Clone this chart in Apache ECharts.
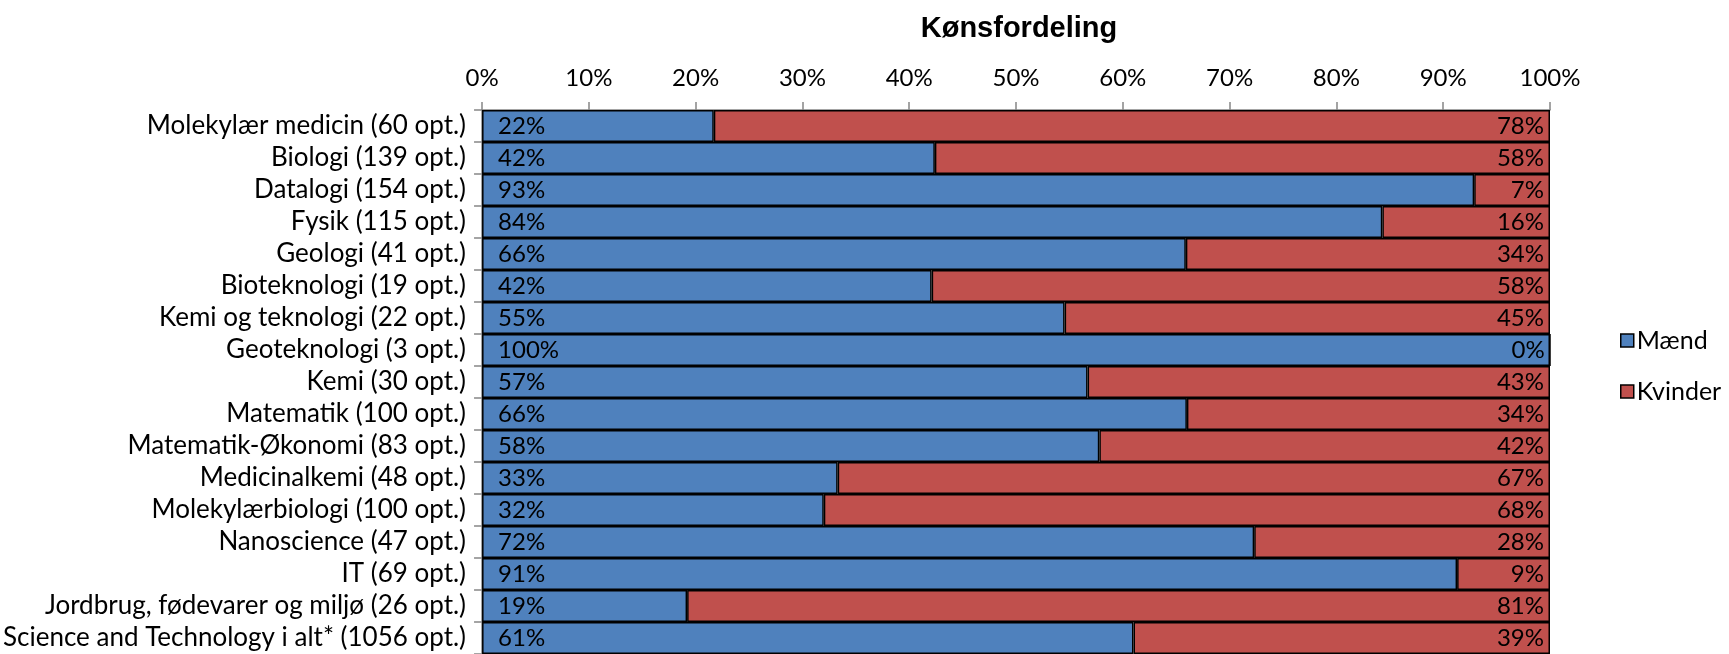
<!DOCTYPE html>
<html>
<head>
<meta charset="utf-8">
<script src="https://cdn.jsdelivr.net/npm/echarts@6/dist/echarts.min.js"></script>
<style>
html,body{margin:0;padding:0;background:#fff;}
#chart{width:1729px;height:654px;}
</style>
</head>
<body>
<div id="chart"></div>
<script>
const titleText = 'Kønsfordeling';
const categories = [
  'Molekylær medicin (60 opt.)',
  'Biologi (139 opt.)',
  'Datalogi (154 opt.)',
  'Fysik (115 opt.)',
  'Geologi (41 opt.)',
  'Bioteknologi (19 opt.)',
  'Kemi og teknologi (22 opt.)',
  'Geoteknologi (3 opt.)',
  'Kemi (30 opt.)',
  'Matematik (100 opt.)',
  'Matematik-Økonomi (83 opt.)',
  'Medicinalkemi (48 opt.)',
  'Molekylærbiologi (100 opt.)',
  'Nanoscience (47 opt.)',
  'IT (69 opt.)',
  'Jordbrug, fødevarer og miljø (26 opt.)',
  'Science and Technology i alt* (1056 opt.)'
];
const maend =   [21.7, 42.4, 92.9, 84.3, 65.9, 42.1, 54.55, 100, 56.7, 66.0, 57.8, 33.3, 32.0, 72.3, 91.3, 19.2, 61.0];
const kvinder = [78.3, 57.6,  7.1, 15.7, 34.1, 57.9, 45.45,   0, 43.3, 34.0, 42.2, 66.7, 68.0, 27.7,  8.7, 80.8, 39.0];
const seriesNames = ['Mænd', 'Kvinder'];
const tickLabels = ['0%','10%','20%','30%','40%','50%','60%','70%','80%','90%','100%'];

const FONT = 'Lato';
const chart = echarts.init(document.getElementById('chart'), null, {renderer: 'canvas'});
const pct = p => Math.round(p.value) + '%';
chart.setOption({
  backgroundColor: '#fff',
  animation: false,
  title: {
    text: titleText,
    left: 1014, top: 9, textAlign: 'center',
    textStyle: {fontFamily: 'Liberation Sans', fontWeight: 'bold', fontSize: 29, color: '#000'}
  },
  legend: {
    orient: 'vertical',
    left: 1615, top: 323,
    itemWidth: 13, itemHeight: 13, itemGap: 26,
    icon: 'rect',
    itemStyle: {borderColor: '#000', borderWidth: 1.5},
    textStyle: {fontFamily: FONT, fontSize: 25, color: '#000', padding: [0,0,0,-2]},
    data: seriesNames
  },
  grid: {left: 482, right: 179, top: 110, bottom: -3, containLabel: false},
  xAxis: {
    type: 'value', position: 'top', min: 0, max: 100, interval: 10,
    axisLine: {show: true, lineStyle: {color: '#868686', width: 1.5}},
    axisTick: {show: true, length: 8, lineStyle: {color: '#868686', width: 1.5}},
    splitLine: {show: false},
    axisLabel: {fontFamily: FONT, fontSize: 24, color: '#000', margin: 20,
      formatter: (v) => tickLabels[Math.round(v / 10)]}
  },
  yAxis: {
    type: 'category', inverse: true, data: categories,
    axisLine: {show: true, lineStyle: {color: '#868686', width: 1.5}},
    axisTick: {show: true, length: 8, interval: 0, lineStyle: {color: '#868686', width: 1.5}},
    axisLabel: {fontFamily: FONT, fontSize: 26, color: '#000', margin: 16, interval: 0}
  },
  series: [
    {
      name: seriesNames[0], type: 'bar', stack: 'total', data: maend,
      barCategoryGap: '0%',
      itemStyle: {color: '#4F81BD', borderColor: '#000', borderWidth: 1.5},
      label: {show: true, position: 'insideLeft', distance: 16, formatter: pct,
        fontFamily: FONT, fontSize: 24, color: '#000'}
    },
    {
      name: seriesNames[1], type: 'bar', stack: 'total', data: kvinder,
      barCategoryGap: '0%',
      itemStyle: {color: '#C0504D', borderColor: '#000', borderWidth: 1.5},
      label: {show: true, position: 'insideRight', distance: 6, formatter: pct,
        fontFamily: FONT, fontSize: 24, color: '#000'}
    }
  ]
});
</script>
</body>
</html>
